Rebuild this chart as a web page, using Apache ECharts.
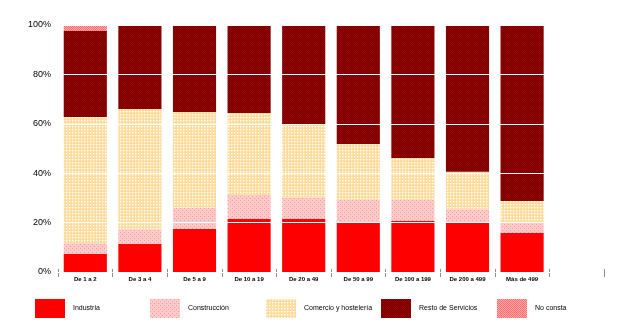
<!DOCTYPE html>
<html>
<head>
<meta charset="utf-8">
<script src="https://cdn.jsdelivr.net/npm/echarts@6/dist/echarts.min.js"></script>
<style>
  html, body { margin: 0; padding: 0; background: #fff; }
  #chart { width: 640px; height: 332px; }
</style>
</head>
<body>
<div id="chart"></div>
<script>
// Tramos de asalariados (the last slot is left empty on purpose)
const categories = ['De 1 a 2', 'De 3 a 4', 'De 5 a 9', 'De 10 a 19', 'De 20 a 49',
  'De 50 a 99', 'De 100 a 199', 'De 200 a 499', 'Más de 499', ''];

// Percentage share of each sector in every size band
const industria    = [7.3, 11.3, 17.4, 21.5, 21.5, 19.9, 20.6, 19.9, 15.8];
const construccion = [4.3, 6.0, 8.6, 9.7, 8.7, 9.2, 8.5, 5.5, 4.3];
const comercio     = [51.2, 48.7, 38.8, 33.2, 29.6, 22.7, 17.1, 15.2, 8.6];
const restoServ    = [34.8, 34.0, 35.2, 35.6, 40.2, 47.9, 53.4, 59.4, 71.3];
const noConsta     = [2.4, 0, 0, 0, 0, 0.3, 0.4, 0, 0];

const seriesNames = ['Industria', 'Construcción', 'Comercio y hostelería', 'Resto de Servicios', 'No consta'];
const yTicks = [0, 20, 40, 60, 80, 100];

// Small bitmap fills used as repeating patterns
function makePattern(size, base, pixels) {
  const c = document.createElement('canvas');
  c.width = size; c.height = size;
  const ctx = c.getContext('2d');
  ctx.fillStyle = base;
  ctx.fillRect(0, 0, size, size);
  pixels.forEach(([x, y, col]) => { ctx.fillStyle = col; ctx.fillRect(x, y, 1, 1); });
  return { image: c, repeat: 'repeat' };
}

const fillIndustria = '#ff0000';
const fillConstr = makePattern(4, '#ffcaca', [[0, 0, '#ff9a9a'], [2, 2, '#ff9a9a']]);
const fillComercio = makePattern(3, '#ffdc9c', [
  [0, 0, '#ffffff'], [1, 0, '#ffeccb'], [0, 1, '#ffeccb']
]);
const fillResto = makePattern(2, '#700000', [[0, 0, '#9c0000'], [1, 1, '#9c0000']]);
const fillNoConsta = makePattern(2, '#ffa8a8', [[0, 0, '#ff6e6e'], [1, 1, '#ff6e6e']]);

const fills = [fillIndustria, fillConstr, fillComercio, fillResto, fillNoConsta];
const values = [industria, construccion, comercio, restoServ, noConsta];
const legendLeft = [35, 150, 266, 381, 497];

const fontFamily = '"Liberation Sans", Arial, sans-serif';

const chart = echarts.init(document.getElementById('chart'), null, { renderer: 'canvas' });

chart.setOption({
  animation: false,
  backgroundColor: '#ffffff',
  grid: { left: 58, right: 36, top: 25, bottom: 60, containLabel: false },
  legend: seriesNames.map((name, i) => ({
    data: [name],
    left: legendLeft[i],
    top: 299,
    padding: 0,
    itemWidth: 30,
    itemHeight: 19,
    icon: 'rect',
    selectedMode: false,
    textStyle: { fontSize: 7, color: '#000', fontFamily: fontFamily, padding: [0, 0, 0, 3] }
  })),
  xAxis: {
    type: 'category',
    data: categories,
    offset: -3,
    axisLine: { show: false },
    axisTick: { show: true, alignWithLabel: false, length: 8, lineStyle: { color: '#8c8c8c', width: 1 } },
    axisLabel: { fontSize: 6, fontWeight: 'bold', color: '#000', fontFamily: fontFamily, margin: 7, interval: 0 },
    splitLine: { show: false }
  },
  yAxis: {
    type: 'value',
    min: yTicks[0],
    max: yTicks[yTicks.length - 1],
    interval: 20,
    z: 5,
    axisLine: { show: false },
    axisTick: { show: false },
    axisLabel: { fontSize: 9, color: '#000', fontFamily: fontFamily, margin: 7, formatter: '{value}%' },
    splitLine: { show: true, lineStyle: { color: '#ffffff', width: 1 } }
  },
  series: seriesNames.map((name, i) => ({
    name: name,
    type: 'bar',
    stack: 'total',
    barCategoryGap: '21%',
    data: values[i],
    itemStyle: { color: fills[i], borderWidth: 0 },
    emphasis: { disabled: true }
  }))
});
</script>
</body>
</html>
